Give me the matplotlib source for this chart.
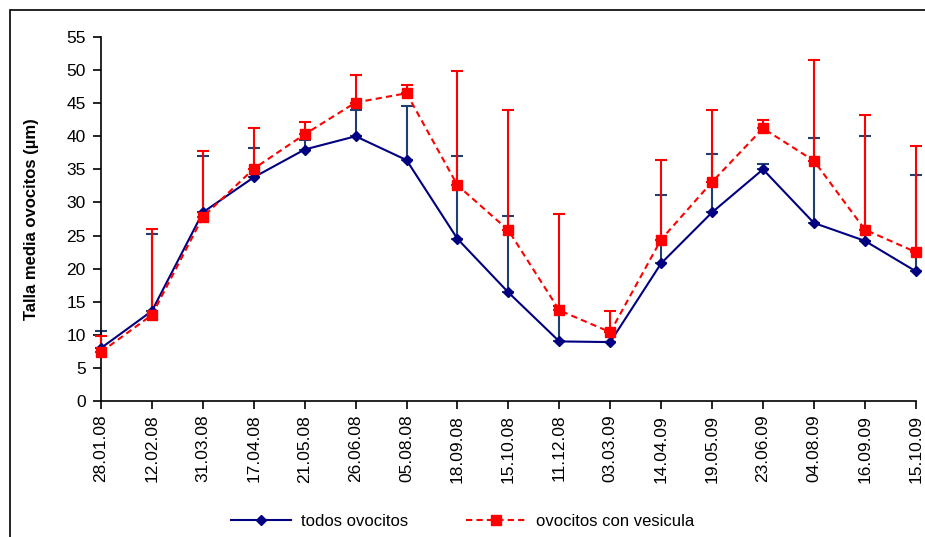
import matplotlib.pyplot as plt
import matplotlib.patches as patches
import numpy as np

plt.rcParams['font.family'] = ['Liberation Sans', 'DejaVu Sans']

fechas = ['28.01.08', '12.02.08', '31.03.08', '17.04.08', '21.05.08', '26.06.08',
          '05.08.08', '18.09.08', '15.10.08', '11.12.08', '03.03.09', '14.04.09',
          '19.05.09', '23.06.09', '04.08.09', '16.09.09', '15.10.09']

# todos ovocitos: media y extremo superior de la barra de error
todos = [8.0, 13.6, 28.5, 33.8, 38.0, 40.0, 36.4, 24.5, 16.4, 9.0, 8.9,
         20.8, 28.5, 35.0, 26.9, 24.2, 19.6]
todos_sup = [10.6, 25.2, 37.0, 38.3, 39.4, 43.9, 44.6, 37.0, 27.9, 14.4, 8.9,
             31.2, 37.3, 35.8, 39.7, 40.0, 34.2]

# ovocitos con vesicula
vesic = [7.4, 13.0, 27.8, 35.1, 40.3, 45.1, 46.5, 32.6, 25.8, 13.7, 10.4,
         24.4, 33.1, 41.2, 36.3, 25.9, 22.5]
vesic_sup = [9.8, 26.0, 37.8, 41.3, 42.1, 49.3, 47.7, 49.8, 43.9, 28.2, 13.6,
             36.4, 43.9, 42.5, 51.5, 43.2, 38.6]

x = np.arange(len(fechas))
todos = np.array(todos)
vesic = np.array(vesic)
err_t = [np.zeros(len(x)), np.array(todos_sup) - todos]
err_v = [np.zeros(len(x)), np.array(vesic_sup) - vesic]

fig = plt.figure(figsize=(9.25, 5.37), dpi=100)
ax = fig.add_axes([0.1092, 0.2533, 0.8808, 0.6778])

# marco del grafico
fig.patches.append(patches.Rectangle((10/925, -0.1), 1.2, 1 - 10/537 + 0.1,
                                     transform=fig.transFigure, fill=False,
                                     edgecolor='black', linewidth=1.2))

eb1 = ax.errorbar(x, todos, yerr=err_t, fmt='none', ecolor='#1f3f6f', elinewidth=1.5,
                  capsize=4.5, capthick=1.5, zorder=2)
eb2 = ax.errorbar(x, vesic, yerr=err_v, fmt='none', ecolor='#ff0000', elinewidth=1.5,
                  capsize=4.5, capthick=1.5, zorder=3)
for eb in (eb1, eb2):
    for art in eb.lines[1] + eb.lines[2]:
        art.set_clip_on(False)
ax.plot(x, todos, color='#000080', linewidth=1.5, marker='D', markersize=5.5,
        label='todos ovocitos', zorder=4, clip_on=False)
ax.plot(x, vesic, color='#ff0000', linewidth=1.5, linestyle=(0, (3, 2)),
        marker='s', markersize=7, label='ovocitos con vesicula', zorder=5, clip_on=False)

ax.set_xlim(0, len(x) - 1)
ax.set_ylim(0, 55)
ax.set_yticks(np.arange(0, 56, 5))
ax.set_xticks(x)
ax.set_xticklabels(fechas, rotation=90, fontsize=12.5)
ax.tick_params(axis='y', labelsize=12.5, direction='out', length=6, width=1.2, pad=5)
ax.tick_params(axis='x', direction='out', length=6, width=1.2, pad=4)
for s in ['top', 'right']:
    ax.spines[s].set_visible(False)
for s in ['left', 'bottom']:
    ax.spines[s].set_linewidth(1.2)

ax.set_ylabel('Talla media ovocitos (µm)', fontsize=12, fontweight='bold')
ax.yaxis.set_label_coords(-0.076, 0.5)

fig.legend(loc='center', bbox_to_anchor=(0.5, 1 - 521/537), ncol=2, frameon=False,
           fontsize=12, handlelength=3.6, columnspacing=3.5, handletextpad=0.6)

fig.savefig('out.png', dpi=100)
